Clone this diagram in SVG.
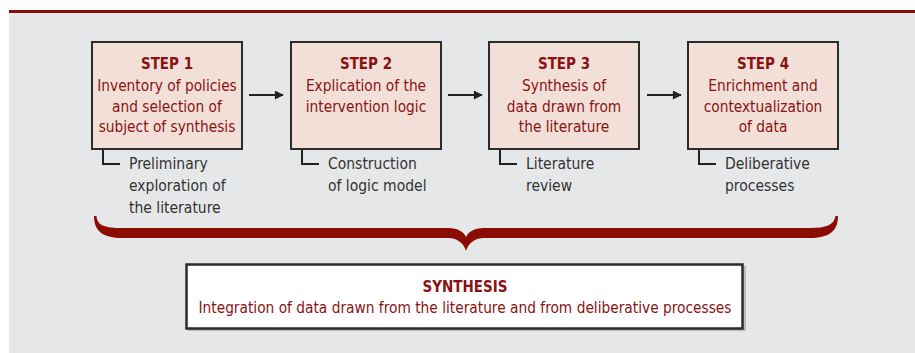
<svg xmlns="http://www.w3.org/2000/svg" width="915" height="353" viewBox="0 0 915 353">
<defs>
<style>
.bg{fill:#e6e7e9}
.box{fill:#f2e0d8;stroke:#2b2b2b;stroke-width:2}
.t{font-family:"DejaVu Sans Condensed","Liberation Sans",sans-serif;font-size:15.3px;fill:#8b1212;text-anchor:middle}
.b{font-weight:bold;font-size:15px}
.s{font-family:"DejaVu Sans Condensed","Liberation Sans",sans-serif;font-size:15.5px;fill:#333333}
.br{fill:none;stroke:#222;stroke-width:2}
.ar{fill:none;stroke:#222;stroke-width:2}
</style>
<marker id="ah" viewBox="0 0 10 10" refX="9" refY="5" markerWidth="12" markerHeight="9" markerUnits="userSpaceOnUse" orient="auto">
<path d="M0,0 L10,5 L0,10 Z" fill="#222"/>
</marker>
</defs>
<rect x="0" y="0" width="915" height="353" fill="#ffffff"/>
<rect class="bg" x="9" y="13" width="906" height="340"/>
<rect x="9" y="10" width="906" height="3" fill="#8b0c02"/>

<g id="step1">
<rect class="box" x="92" y="42" width="150" height="107"/>
<text class="t b" x="167" y="69">STEP 1</text>
<text class="t" x="167" y="91">Inventory of policies</text>
<text class="t" x="167" y="111.5">and selection of</text>
<text class="t" x="167" y="132">subject of synthesis</text>
<path class="br" d="M103,150 V164 H120"/>
<text class="s" x="129" y="169">Preliminary</text>
<text class="s" x="129" y="191">exploration of</text>
<text class="s" x="129" y="212.5">the literature</text>
</g>

<g id="step2">
<rect class="box" x="291" y="42" width="150" height="107"/>
<text class="t b" x="366" y="69">STEP 2</text>
<text class="t" x="366" y="91">Explication of the</text>
<text class="t" x="366" y="111.5">intervention logic</text>
<path class="br" d="M302,150 V164 H319"/>
<text class="s" x="328" y="169">Construction</text>
<text class="s" x="328" y="191">of logic model</text>
</g>

<g id="step3">
<rect class="box" x="489" y="42" width="150" height="107"/>
<text class="t b" x="564" y="69">STEP 3</text>
<text class="t" x="564" y="91">Synthesis of</text>
<text class="t" x="564" y="111.5">data drawn from</text>
<text class="t" x="564" y="132">the literature</text>
<path class="br" d="M500,150 V164 H517"/>
<text class="s" x="526" y="169">Literature</text>
<text class="s" x="526" y="191">review</text>
</g>

<g id="step4">
<rect class="box" x="688" y="42" width="150" height="107"/>
<text class="t b" x="763" y="69">STEP 4</text>
<text class="t" x="763" y="91">Enrichment and</text>
<text class="t" x="763" y="111.5">contextualization</text>
<text class="t" x="763" y="132">of data</text>
<path class="br" d="M699,150 V164 H716"/>
<text class="s" x="725" y="169">Deliberative</text>
<text class="s" x="725" y="191">processes</text>
</g>

<g id="brace">
<path fill="#8b0c02" d="M94,216 C94,232 104,238 122,238 L448,238 C458,238 464,244 466,251 C468,244 474,238 484,238 L810,238 C828,238 838,232 838,216 L835.5,216 C834,225 826,228 810,228 L484,228 C474,228 468,232 466,237 C464,232 458,228 448,228 L122,228 C106,228 97,226 96.5,216 Z"/>
</g>

<g id="synthesis">
<rect x="188" y="266" width="558" height="65" fill="#b9babd"/>
<rect x="186.5" y="264.5" width="556" height="64" fill="#ffffff" stroke="#2b2b2b" stroke-width="2.5"/>
<text class="t b" x="465" y="291.5">SYNTHESIS</text>
<text class="t" x="465" y="312.5">Integration of data drawn from the literature and from deliberative processes</text>
</g>

<g id="connectors">
<line class="ar" x1="249" y1="95" x2="283" y2="95" marker-end="url(#ah)"/>
<line class="ar" x1="448" y1="95" x2="482" y2="95" marker-end="url(#ah)"/>
<line class="ar" x1="647" y1="95" x2="681" y2="95" marker-end="url(#ah)"/>
</g>
</svg>
